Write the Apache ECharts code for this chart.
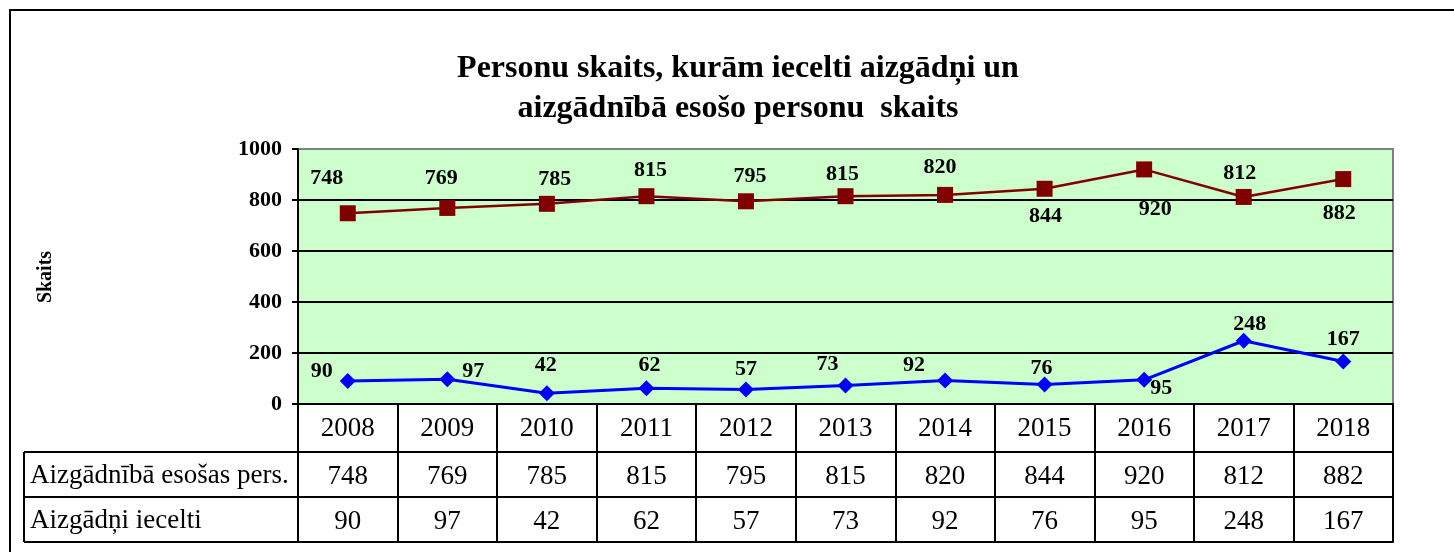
<!DOCTYPE html>
<html><head><meta charset="utf-8">
<script src="https://cdn.jsdelivr.net/npm/echarts@6/dist/echarts.min.js"></script>
<style>html,body{margin:0;padding:0;background:#fff}#c{width:1454px;height:552px}</style>
</head><body><div id="c"></div>
<script>
const titleLines = ['Personu skaits, kurām iecelti aizgādņi un', 'aizgādnībā esošo personu  skaits'];
const yAxisTitle = 'Skaits';
const years = ['2008','2009','2010','2011','2012','2013','2014','2015','2016','2017','2018'];
const seriesNames = ['Aizgādnībā esošas pers.', 'Aizgādņi iecelti'];
const inCare = [748, 769, 785, 815, 795, 815, 820, 844, 920, 812, 882];
const appointed = [90, 97, 42, 62, 57, 73, 92, 76, 95, 248, 167];
const yMin = 0, yMax = 1000, yStep = 200;

// label placement (style only)
const inCareLabelOffsets = [[-21,-35],[-6,-30],[8,-25],[4,-26],[4,-25],[-3,-22],[-5,-28],[1,28],[11,40],[-4,-24],[-4,34]];
const appointedLabelOffsets = [[-26,-10],[26,-8],[-1,-28],[3,-23],[0,-20],[-18,-21],[-31,-15],[-3,-16],[17,9],[6,-16],[0,-22]];

const SERIF = '"Liberation Serif","Times New Roman",serif';
const G = {left: 298, right: 1393, top: 149, bottom: 404};
const rowLines = [452, 497, 542];
const tableLeft = 24;
const TABLE_FONT = 27;

const chart = echarts.init(document.getElementById('c'), null, {renderer: 'canvas'});

function tableAxis(idx, offset, values, tickLen, showLabel) {
  return {
    type: 'category', gridIndex: 0, position: 'bottom', offset: offset,
    data: years, boundaryGap: true,
    axisLine: {show: true, onZero: false, lineStyle: {color: '#000', width: 2}},
    axisTick: {show: tickLen > 0, interval: 0, length: tickLen, lineStyle: {color: '#000', width: 2}},
    axisLabel: {show: showLabel, interval: 0, margin: 11, color: '#000', fontSize: TABLE_FONT, fontFamily: SERIF,
      formatter: values ? (v, i) => String(values[i]) : undefined},
    splitLine: {show: false}
  };
}

const labelBase = {show: true, position: 'inside', color: '#000', fontSize: 22, fontWeight: 'bold', fontFamily: SERIF};

const option = {
  animation: false,
  backgroundColor: '#fff',
  grid: {left: G.left, right: 1454 - G.right, top: G.top, bottom: 552 - G.bottom,
    show: true, backgroundColor: '#ccffcc', borderColor: '#808080', borderWidth: 2, containLabel: false},
  xAxis: [
    tableAxis(0, 0, null, 48, true),
    tableAxis(1, 48, inCare, 45, true),
    tableAxis(2, 93, appointed, 45, true),
    tableAxis(3, 138, null, 0, false)
  ],
  yAxis: {
    type: 'value', min: yMin, max: yMax, interval: yStep,
    axisLine: {show: true, lineStyle: {color: '#000', width: 2}},
    axisTick: {show: true, length: 6, lineStyle: {color: '#000', width: 2}},
    axisLabel: {margin: 16, color: '#000', fontSize: 22, fontWeight: 'bold', fontFamily: SERIF,
      formatter: v => String(v)},
    splitLine: {show: true, showMaxLine: false, lineStyle: {color: '#000', width: 2}}
  },
  series: [
    {
      name: seriesNames[0], type: 'line', xAxisIndex: 0,
      data: inCare.map((v, i) => ({value: v, label: {offset: inCareLabelOffsets[i]}})),
      symbol: 'rect', symbolSize: 16,
      lineStyle: {color: '#800000', width: 2.5},
      itemStyle: {color: '#800000'},
      label: labelBase, z: 3
    },
    {
      name: seriesNames[1], type: 'line', xAxisIndex: 0,
      data: appointed.map((v, i) => ({value: v, label: {offset: appointedLabelOffsets[i]}})),
      symbol: 'diamond', symbolSize: 16,
      lineStyle: {color: '#0000ff', width: 3},
      itemStyle: {color: '#0000ff'},
      label: labelBase, z: 3
    }
  ],
  graphic: [
    {type: 'polyline', shape: {points: [[10, 552], [10, 10], [1454, 10]]}, style: {stroke: '#000', lineWidth: 2, fill: null}},
    {type: 'text', x: 738, y: 69, style: {text: titleLines[0], font: 'bold 32px ' + SERIF, fill: '#000', textAlign: 'center', textVerticalAlign: 'middle'}},
    {type: 'text', x: 738, y: 109, style: {text: titleLines[1], font: 'bold 32px ' + SERIF, fill: '#000', textAlign: 'center', textVerticalAlign: 'middle'}},
    {type: 'text', x: 46, y: 277, rotation: Math.PI / 2, style: {text: yAxisTitle, font: 'bold 20px ' + SERIF, fill: '#000', textAlign: 'center', textVerticalAlign: 'middle'}},
    {type: 'line', shape: {x1: tableLeft, y1: rowLines[0], x2: G.left, y2: rowLines[0]}, style: {stroke: '#000', lineWidth: 2}},
    {type: 'line', shape: {x1: tableLeft, y1: rowLines[1], x2: G.left, y2: rowLines[1]}, style: {stroke: '#000', lineWidth: 2}},
    {type: 'line', shape: {x1: tableLeft, y1: rowLines[2], x2: G.left, y2: rowLines[2]}, style: {stroke: '#000', lineWidth: 2}},
    {type: 'line', shape: {x1: tableLeft, y1: rowLines[0], x2: tableLeft, y2: rowLines[2]}, style: {stroke: '#000', lineWidth: 2}},
    {type: 'text', x: 30, y: 476, style: {text: seriesNames[0], font: TABLE_FONT + 'px ' + SERIF, fill: '#000', textAlign: 'left', textVerticalAlign: 'middle'}},
    {type: 'text', x: 30, y: 521, style: {text: seriesNames[1], font: TABLE_FONT + 'px ' + SERIF, fill: '#000', textAlign: 'left', textVerticalAlign: 'middle'}}
  ]
};
chart.setOption(option);
</script></body></html>
